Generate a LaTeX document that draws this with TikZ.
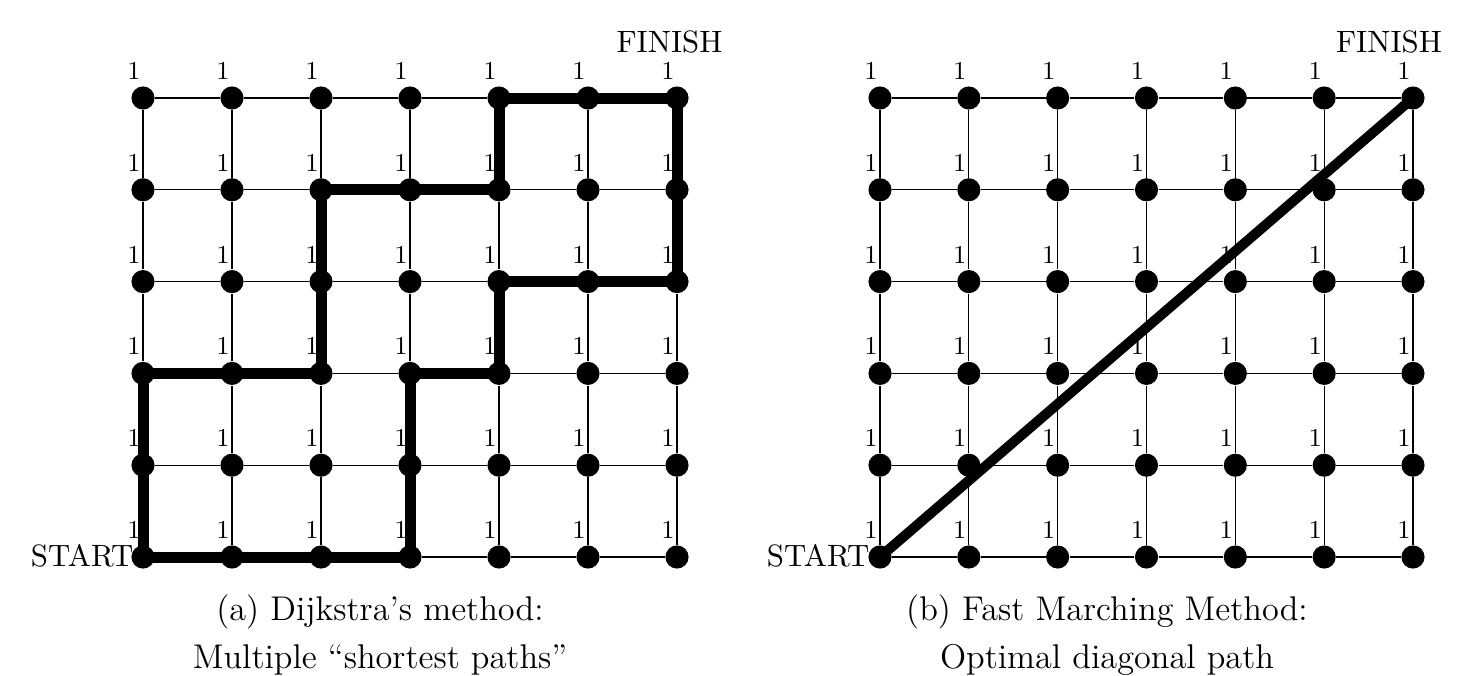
\documentclass[tikz,border=0pt]{standalone}
\usepackage{fontspec}
\begin{document}
\begin{tikzpicture}[x=0.35pt,y=-0.35pt,
  dot/.style={circle,fill=black,inner sep=0pt,minimum size=8.1pt},
  gridline/.style={line width=0.45pt},
  pathline/.style={line width=3.85pt,line join=miter},
  one/.style={font=\fontsize{9}{11}\selectfont,inner sep=0pt},
  word/.style={font=\fontsize{10.8}{13}\selectfont,inner sep=0pt},
  captext/.style={font=\fontsize{12}{14.4}\selectfont,inner sep=0pt,anchor=base}]
\useasboundingbox (0,0) rectangle (1460,676);
% nodes
\foreach \i in {0,...,6}{
  \foreach \j in {0,...,5}{
    \node[dot] (a-\i-\j) at ({143+89*\i},{557-91.8*\j}) {};
    \node[one] (la-\i-\j) at ({134+89*\i},{530-91.8*\j}) {1};
    \node[dot] (b-\i-\j) at ({880+88.83*\i},{557-91.8*\j}) {};
    \node[one] (lb-\i-\j) at ({871+88.83*\i},{530-91.8*\j}) {1};
  }
}
% grid lines
\foreach \i in {0,...,5}{
  \pgfmathtruncatemacro{\ni}{\i+1}
  \foreach \j in {0,...,5}{
    \draw[gridline] (a-\i-\j) -- (a-\ni-\j);
    \draw[gridline] (b-\i-\j) -- (b-\ni-\j);
  }
}
\foreach \i in {0,...,6}{
  \foreach \j in {0,...,4}{
    \pgfmathtruncatemacro{\nj}{\j+1}
    \draw[gridline] (a-\i-\j) -- (a-\i-\nj);
    \draw[gridline] (b-\i-\j) -- (b-\i-\nj);
  }
}
% thick paths
\draw[pathline] (a-0-0.center) -- (a-0-2.center) -- (a-2-2.center) -- (a-2-4.center)
  -- (a-4-4.center) -- (a-4-5.center) -- (a-6-5.center) -- (a-6-3.center)
  -- (a-4-3.center) -- (a-4-2.center) -- (a-3-2.center) -- (a-3-0.center) -- cycle;
\draw[pathline,line width=3.5pt] (b-0-0.center) -- (b-6-5.center);
% texts
\node[word,anchor=east] (start-a) at (134,556) {START};
\node[word,anchor=east] (start-b) at (870,556) {START};
\node[word] (finish-a) at (669.5,42) {FINISH};
\node[word] (finish-b) at (1389,42) {FINISH};
\node[captext] (cap-a1) at (380,620) {(a) Dijkstra's method:};
\node[captext] (cap-a2) at (380,668) {Multiple ``shortest paths''};
\node[captext] (cap-b1) at (1107,620) {(b) Fast Marching Method:};
\node[captext] (cap-b2) at (1107,668) {Optimal diagonal path};
\end{tikzpicture}
\end{document}
